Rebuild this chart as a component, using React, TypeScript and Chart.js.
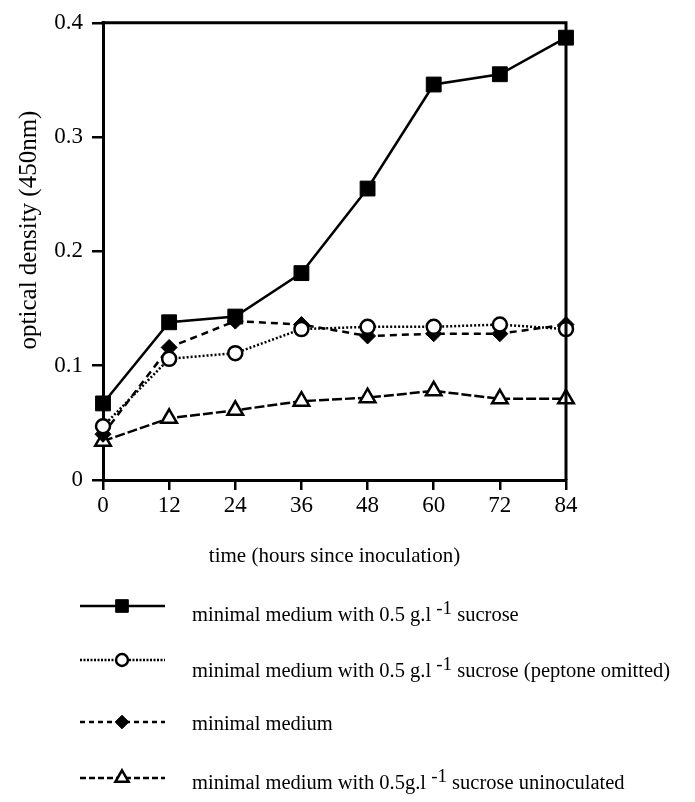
import React, { useEffect, useRef } from "react";
import { Chart, registerables } from "chart.js";

Chart.register(...registerables);

const hours = [0, 12, 24, 36, 48, 60, 72, 84];
const sucrose = [0.067, 0.138, 0.143, 0.181, 0.255, 0.346, 0.355, 0.387];
const peptoneOmitted = [0.047, 0.106, 0.111, 0.132, 0.134, 0.134, 0.136, 0.132];
const minimalMedium = [0.04, 0.116, 0.139, 0.136, 0.126, 0.128, 0.128, 0.136];
const uninoculated = [0.034, 0.054, 0.061, 0.069, 0.072, 0.078, 0.071, 0.071];

const xTickLabels = ["0", "12", "24", "36", "48", "60", "72", "84"];
const yTickValues = [0, 0.1, 0.2, 0.3, 0.4];
const yTickLabels = ["0", "0.1", "0.2", "0.3", "0.4"];

const xTitle = "time (hours since inoculation)";
const yTitle = "optical density (450nm)";

// legend text parts: [before superscript, superscript, after superscript]
const legendLabels: string[][] = [
  ["minimal medium with 0.5 g.l ", "-1", " sucrose"],
  ["minimal medium with 0.5 g.l ", "-1", " sucrose (peptone omitted)"],
  ["minimal medium", "", ""],
  ["minimal medium with 0.5g.l ", "-1", " sucrose uninoculated"],
];

const FONT = "'Liberation Serif', 'DejaVu Serif', serif";

type Style = {
  pointStyle: string;
  radius: number;
  fill: string;
  dash: number[];
  legendDash: number[];
  lw: number;
};

const styles: Style[] = [
  { pointStyle: "rect", radius: 10.5, fill: "#000", dash: [], legendDash: [], lw: 2.5 },
  { pointStyle: "circle", radius: 7, fill: "#fff", dash: [2, 2], legendDash: [2, 1.5], lw: 2.5 },
  { pointStyle: "rectRot", radius: 8, fill: "#000", dash: [7, 5], legendDash: [5, 4], lw: 2.5 },
  { pointStyle: "triangle", radius: 9, fill: "#fff", dash: [10, 3], legendDash: [6, 3], lw: 2.5 },
];

const legendLineY = [606, 660, 722, 778];
const legendTextY = [616, 672, 725, 784];

function drawMarker(ctx: CanvasRenderingContext2D, s: Style, x: number, y: number, scale: number) {
  ctx.save();
  ctx.setLineDash([]);
  ctx.lineWidth = 2.5;
  ctx.strokeStyle = "#000";
  ctx.fillStyle = s.fill;
  ctx.beginPath();
  const r = s.radius * scale;
  if (s.pointStyle === "rect") {
    const h = Math.SQRT1_2 * r;
    ctx.rect(x - h, y - h, 2 * h, 2 * h);
    ctx.fill();
    ctx.lineWidth = 1;
    ctx.stroke();
  } else if (s.pointStyle === "circle") {
    ctx.arc(x, y, r, 0, Math.PI * 2);
    ctx.fill();
    ctx.stroke();
  } else if (s.pointStyle === "rectRot") {
    ctx.moveTo(x, y - r);
    ctx.lineTo(x + r, y);
    ctx.lineTo(x, y + r);
    ctx.lineTo(x - r, y);
    ctx.closePath();
    ctx.fill();
    ctx.lineWidth = 1;
    ctx.stroke();
  } else {
    const a = (2 * Math.PI) / 3;
    ctx.moveTo(x, y - r);
    ctx.lineTo(x + Math.sin(a) * r, y - Math.cos(a) * r);
    ctx.lineTo(x + Math.sin(2 * a) * r, y - Math.cos(2 * a) * r);
    ctx.closePath();
    ctx.fill();
    ctx.stroke();
  }
  ctx.restore();
}

const extrasPlugin = {
  id: "extras",
  afterDraw(chart: any) {
    const ctx: CanvasRenderingContext2D = chart.ctx;
    const { left, right, top, bottom } = chart.chartArea;
    ctx.save();
    // top and right frame
    ctx.strokeStyle = "#000";
    ctx.lineWidth = 3;
    ctx.beginPath();
    ctx.moveTo(left - 1.5, top);
    ctx.lineTo(right, top);
    ctx.lineTo(right, bottom);
    ctx.stroke();

    // axis titles
    ctx.fillStyle = "#000";
    ctx.font = `21px ${FONT}`;
    ctx.textAlign = "center";
    ctx.textBaseline = "middle";
    ctx.fillText(xTitle, (left + right) / 2, 556);
    ctx.save();
    ctx.font = `25px ${FONT}`;
    ctx.translate(29, 230);
    ctx.rotate(-Math.PI / 2);
    ctx.fillText(yTitle, 0, 0);
    ctx.restore();

    // legend
    legendLabels.forEach((parts, i) => {
      const s = styles[i];
      const ly = legendLineY[i];
      ctx.save();
      ctx.strokeStyle = "#000";
      ctx.lineWidth = s.lw;
      ctx.setLineDash(s.legendDash);
      ctx.beginPath();
      ctx.moveTo(80, ly);
      ctx.lineTo(165, ly);
      ctx.stroke();
      ctx.restore();
      drawMarker(ctx, s, 122, ly, 0.85);

      const ty = legendTextY[i];
      ctx.textAlign = "left";
      ctx.textBaseline = "middle";
      let x = 192;
      ctx.font = `20.5px ${FONT}`;
      ctx.fillText(parts[0], x, ty);
      x += ctx.measureText(parts[0]).width;
      if (parts[1]) {
        ctx.font = `19px ${FONT}`;
        ctx.fillText(parts[1], x, ty - 7);
        x += ctx.measureText(parts[1]).width;
        ctx.font = `20.5px ${FONT}`;
        ctx.fillText(parts[2], x, ty);
      }
    });
    ctx.restore();
  },
};

export default function App() {
  const ref = useRef<HTMLCanvasElement>(null);

  useEffect(() => {
    if (!ref.current) return;
    const series = [sucrose, peptoneOmitted, minimalMedium, uninoculated];
    const names = legendLabels.map((p) => p.join(""));
    const chart = new Chart(ref.current, {
      type: "line",
      data: {
        datasets: series.map((vals, i) => {
          const s = styles[i];
          return {
            label: names[i],
            data: hours.map((h, j) => ({ x: h, y: vals[j] })),
            borderColor: "#000",
            borderWidth: s.lw,
            borderDash: s.dash,
            pointStyle: s.pointStyle as any,
            pointRadius: s.radius,
            pointHoverRadius: s.radius,
            pointBackgroundColor: s.fill,
            pointBorderColor: "#000",
            pointBorderWidth: s.pointStyle === "rect" || s.pointStyle === "rectRot" ? 1 : 2.5,
            fill: false,
            tension: 0,
            clip: false as any,
          };
        }),
      },
      options: {
        animation: false,
        responsive: false,
        events: [],
        layout: { padding: { top: 18, right: 129, left: 0, bottom: 0 } },
        plugins: {
          legend: { display: false },
          tooltip: { enabled: false },
          title: { display: false },
        },
        scales: {
          x: {
            type: "linear",
            min: 0,
            max: 84,
            afterBuildTicks: (scale: any) => {
              scale.ticks = hours.map((v) => ({ value: v }));
            },
            ticks: {
              color: "#000",
              font: { family: FONT, size: 23 },
              padding: 2,
              maxRotation: 0,
              autoSkip: false,
              callback: (v: any) => {
                const idx = hours.indexOf(Number(v));
                return idx >= 0 ? xTickLabels[idx] : "";
              },
            },
            grid: {
              display: true,
              drawOnChartArea: false,
              drawTicks: true,
              tickLength: 10,
              tickWidth: 2.5,
              tickColor: "#000",
              color: "#000",
              lineWidth: 2.5,
            },
            border: { display: true, color: "#000", width: 3 },
            afterFit: (scale: any) => {
              scale.height = 322;
            },
          },
          y: {
            type: "linear",
            min: 0,
            max: 0.4,
            afterBuildTicks: (scale: any) => {
              scale.ticks = yTickValues.map((v) => ({ value: v }));
            },
            ticks: {
              color: "#000",
              font: { family: FONT, size: 23 },
              padding: 9,
              autoSkip: false,
              callback: (v: any) => {
                const idx = yTickValues.findIndex((t) => Math.abs(t - Number(v)) < 1e-9);
                return idx >= 0 ? yTickLabels[idx] : "";
              },
            },
            grid: {
              display: true,
              drawOnChartArea: false,
              drawTicks: true,
              tickLength: 11,
              tickWidth: 2.5,
              tickColor: "#000",
              color: "#000",
              lineWidth: 2.5,
            },
            border: { display: true, color: "#000", width: 3 },
            afterFit: (scale: any) => {
              scale.width = 103;
            },
          },
        },
      },
      plugins: [extrasPlugin],
    });
    return () => chart.destroy();
  }, []);

  return (
    <div style={{ position: "absolute", left: 0, top: 0, width: 695, height: 802, background: "#fff" }}>
      <canvas ref={ref} width={695} height={802} style={{ display: "block" }} />
    </div>
  );
}
